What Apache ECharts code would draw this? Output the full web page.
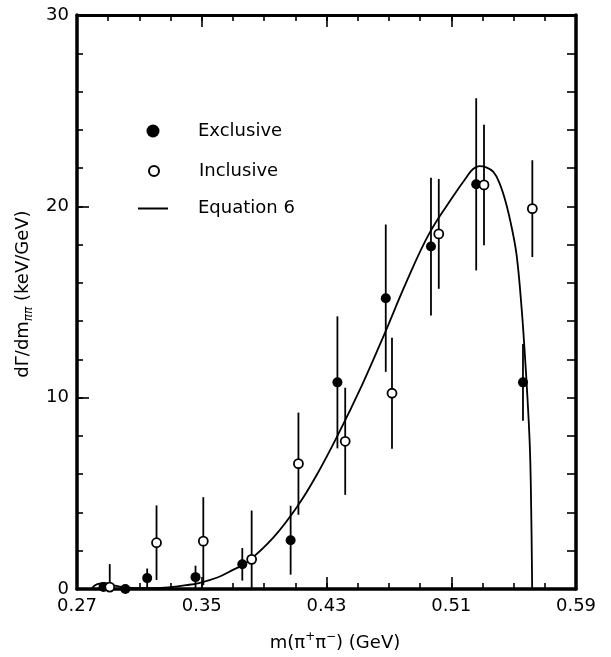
<!DOCTYPE html>
<html><head><meta charset="utf-8">
<script src="https://cdn.jsdelivr.net/npm/echarts@6/dist/echarts.min.js"></script>
<style>html,body{margin:0;padding:0;background:#fff}#c{width:611px;height:657px}</style>
</head><body><div id="c"></div>
<script>
// ---- data ----
const exclusiveX   = [0.287, 0.301, 0.315, 0.346, 0.376, 0.407, 0.437, 0.468, 0.497, 0.526, 0.556];
const exclusiveY   = [0.1, 0.0, 0.57, 0.62, 1.29, 2.55, 10.8, 15.2, 17.9, 21.15, 10.8];
const exclusiveErr = [0, 0, 0.5, 0.6, 0.85, 1.8, 3.45, 3.85, 3.6, 4.5, 2.0];

const inclusiveX   = [0.291, 0.321, 0.351, 0.382, 0.412, 0.442, 0.472, 0.502, 0.531, 0.562];
const inclusiveY   = [0.1, 2.42, 2.5, 1.55, 6.55, 7.72, 10.23, 18.56, 21.12, 19.88];
const inclusiveErr = [1.2, 1.95, 2.3, 2.55, 2.67, 2.8, 2.9, 2.87, 3.15, 2.53];

const curveX = [0.279, 0.283, 0.288, 0.293, 0.300, 0.310, 0.320, 0.330, 0.340, 0.348, 0.360, 0.370, 0.379, 0.396, 0.412, 0.424, 0.437, 0.453, 0.467, 0.481, 0.496, 0.511, 0.520, 0.524, 0.528, 0.532, 0.537, 0.541, 0.545, 0.549, 0.552, 0.555, 0.557, 0.559, 0.5605, 0.5613, 0.5619];
const curveY = [0, 0.25, 0.3, 0.2, 0.1, 0.05, 0.05, 0.1, 0.2, 0.31, 0.6, 1.0, 1.4, 2.7, 4.4, 6.0, 8.0, 10.7, 13.3, 16.0, 18.6, 20.5, 21.55, 21.95, 22.1, 22.05, 21.8, 21.2, 20.2, 18.8, 17.4, 14.8, 12.5, 9.8, 7.2, 4.0, 0];

const xTickLabels = ['0.27', '0.35', '0.43', '0.51', '0.59'];
const yTickLabels = ['0', '10', '20', '30'];
const seriesNames = ['Exclusive', 'Inclusive', 'Equation 6'];

// ---- chart ----
const FONT = 'DejaVu Sans';
const chart = echarts.init(document.getElementById('c'), null, {renderer: 'canvas'});

const zip = (xs, ys) => xs.map((x, i) => [x, ys[i]]);
const errData = (xs, ys, es) => xs.map((x, i) => [x, ys[i] - es[i], ys[i] + es[i]]).filter((d, i) => es[i] > 0);

function errorBarSeries(data) {
  return {
    type: 'custom', clip: true, z: 1, silent: true,
    data: data,
    renderItem: function (params, api) {
      const p1 = api.coord([api.value(0), api.value(1)]);
      const p2 = api.coord([api.value(0), api.value(2)]);
      return {type: 'line', shape: {x1: p1[0], y1: p1[1], x2: p2[0], y2: p2[1]},
              style: {stroke: '#000', lineWidth: 1.8}};
    }
  };
}

const xMin = 0.27, xMax = 0.59, yMin = 0, yMax = 30;
const fmtX = v => { const s = v.toFixed(2); return xTickLabels.indexOf(s) >= 0 ? s : ''; };
const fmtY = v => { const s = String(Math.round(v)); return yTickLabels.indexOf(s) >= 0 ? s : ''; };

function xAx(pos, interval, tickLen, showLabel, lineW, extra) {
  return Object.assign({
    type: 'value', position: pos, min: xMin, max: xMax, interval: interval,
    axisLine: {show: lineW > 0, onZero: false, lineStyle: {color: '#000', width: lineW}},
    axisTick: {show: true, inside: true, length: tickLen, lineStyle: {color: '#000', width: 1.6}},
    axisLabel: {show: showLabel, formatter: fmtX, color: '#000', fontSize: 18, fontFamily: FONT, margin: 8},
    splitLine: {show: false}
  }, extra || {});
}
function yAx(pos, interval, tickLen, showLabel, lineW, extra) {
  return Object.assign({
    type: 'value', position: pos, min: yMin, max: yMax, interval: interval,
    axisLine: {show: lineW > 0, onZero: false, lineStyle: {color: '#000', width: lineW}},
    axisTick: {show: true, inside: true, length: tickLen, lineStyle: {color: '#000', width: 1.6}},
    axisLabel: {show: showLabel, formatter: fmtY, color: '#000', fontSize: 18, fontFamily: FONT, margin: 8},
    splitLine: {show: false}
  }, extra || {});
}

const legendBase = {
  orient: 'vertical', padding: 0, itemWidth: 30, selectedMode: false
};
const legendText = pad => ({color: '#000', fontSize: 18, fontFamily: FONT, padding: [0, 0, 0, pad]});

chart.setOption({
  backgroundColor: '#fff',
  animation: false,
  grid: {left: 77, right: 35, top: 15, bottom: 61, containLabel: false},
  legend: [
    Object.assign({}, legendBase, {data: [seriesNames[0]], left: 146.5, top: 122, itemHeight: 13, textStyle: legendText(25)}),
    Object.assign({}, legendBase, {data: [seriesNames[1]], left: 148, top: 162, itemHeight: 10, textStyle: legendText(25)}),
    Object.assign({}, legendBase, {data: [{name: seriesNames[2], icon: 'rect'}], left: 138, top: 199.5, itemHeight: 2, textStyle: legendText(25)})
  ],
  xAxis: [
    xAx('bottom', 0.08, 12, true, 3.5, {
      name: '{t|m(π}{p|+}{t|π}{p|−}{t|) (GeV)}', nameLocation: 'middle', nameGap: 42,
      nameTextStyle: {color: '#000', fontFamily: FONT, padding: [0, 0, 0, 17], rich: {
        t: {fontSize: 18, fontFamily: FONT, color: '#000'},
        p: {fontSize: 12, fontFamily: FONT, color: '#000', padding: [0, 0, 12, 0]}
      }}
    }),
    xAx('bottom', 0.02, 6, false, 0),
    xAx('top', 0.08, 12, false, 3),
    xAx('top', 0.02, 6, false, 0)
  ],
  yAxis: [
    yAx('left', 10, 12, true, 3.5, {
      name: '{t|dΓ/dm}{s|ππ}{t| (keV/GeV)}', nameLocation: 'middle', nameGap: 36, nameRotate: 90,
      nameTextStyle: {color: '#000', fontFamily: FONT, padding: [0, 0, 0, 16], rich: {
        t: {fontSize: 18, fontFamily: FONT, color: '#000'},
        s: {fontSize: 12, fontFamily: FONT, color: '#000', fontStyle: 'italic', padding: [12, 0, 0, 0]}
      }}
    }),
    yAx('left', 2, 6, false, 0),
    yAx('right', 2, 9, false, 3.5)
  ],
  series: [
    Object.assign(errorBarSeries(errData(exclusiveX, exclusiveY, exclusiveErr)), {xAxisIndex: 0, yAxisIndex: 0}),
    Object.assign(errorBarSeries(errData(inclusiveX, inclusiveY, inclusiveErr)), {xAxisIndex: 0, yAxisIndex: 0}),
    {
      name: seriesNames[2], type: 'line', xAxisIndex: 0, yAxisIndex: 0, z: 2, clip: true,
      data: zip(curveX, curveY), symbol: 'none', showSymbol: false, smooth: 0.4,
      lineStyle: {color: '#000', width: 1.8}, itemStyle: {color: '#000'}
    },
    {
      name: seriesNames[0], type: 'scatter', xAxisIndex: 0, yAxisIndex: 0, z: 3, clip: false,
      data: zip(exclusiveX, exclusiveY), symbol: 'circle', symbolSize: 10,
      itemStyle: {color: '#000', opacity: 1}
    },
    {
      name: seriesNames[1], type: 'scatter', xAxisIndex: 0, yAxisIndex: 0, z: 4, clip: false,
      data: zip(inclusiveX, inclusiveY), symbol: 'circle', symbolSize: 9,
      itemStyle: {color: '#fff', borderColor: '#000', borderWidth: 1.8, opacity: 1}
    }
  ]
});
</script>
</body></html>
